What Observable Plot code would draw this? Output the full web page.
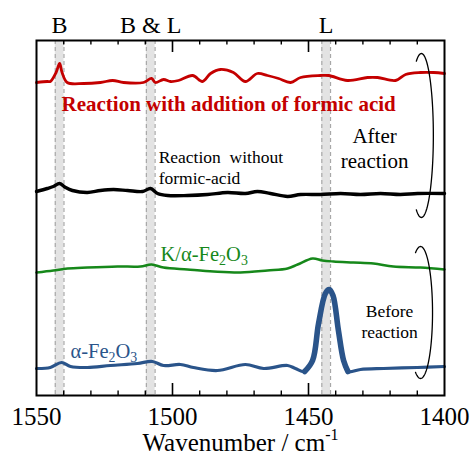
<!DOCTYPE html>
<html>
<head>
<meta charset="utf-8">
<script src="https://cdn.jsdelivr.net/npm/d3@7"></script>
<script src="https://cdn.jsdelivr.net/npm/@observablehq/plot@0.6"></script>
<style>
  html, body { margin: 0; padding: 0; background: #fff; }
</style>
</head>
<body>
<div id="chart"></div>
<script>
// ---------- data (wavenumber / cm-1, offset absorbance a.u.) ----------
const redWn = [1550, 1546, 1544.9, 1542.8, 1541.5, 1540.6, 1538.7, 1532.7, 1526.5, 1522, 1518, 1510.7, 1507.7, 1506.3, 1503.3, 1500.7, 1497.8, 1492.6, 1489, 1486, 1482.4, 1477.6, 1473.2, 1468.8, 1465.1, 1461, 1456.6, 1452.9, 1445.6, 1442.6, 1435.7, 1428.3, 1424.6, 1418, 1414.3, 1408.8, 1404, 1400];
const redAbs = [3.13, 3.14, 3.14, 3.23, 3.32, 3.23, 3.13, 3.12, 3.13, 3.15, 3.13, 3.13, 3.17, 3.13, 3.16, 3.14, 3.15, 3.20, 3.14, 3.22, 3.26, 3.23, 3.14, 3.22, 3.20, 3.17, 3.13, 3.18, 3.20, 3.20, 3.15, 3.18, 3.18, 3.15, 3.21, 3.23, 3.23, 3.22];

const blackWn = [1550, 1546, 1543.8, 1541.5, 1539.3, 1536.8, 1531.3, 1526.5, 1521.7, 1516.5, 1511, 1508.1, 1505.5, 1501.8, 1494.5, 1487.1, 1479.8, 1473.2, 1468.8, 1464, 1457.7, 1452.9, 1445.6, 1438.2, 1430.9, 1423.5, 1416.2, 1409.9, 1400];
const blackAbs = [2.04, 2.07, 2.09, 2.12, 2.08, 2.05, 2.03, 2.05, 2.06, 2.05, 2.04, 2.07, 2.02, 2.00, 2.00, 2.01, 2.03, 2.02, 2.04, 2.02, 1.99, 2.01, 2.01, 2.02, 2.01, 2.02, 2.01, 2.02, 2.02];

const greenWn = [1550, 1543.8, 1538.6, 1531.3, 1520.2, 1511.8, 1507.7, 1503.3, 1494.5, 1484.9, 1475, 1465.1, 1457.7, 1454, 1448.5, 1444.9, 1440.8, 1433.5, 1426.1, 1418.8, 1408.8, 1400];
const greenAbs = [1.23, 1.25, 1.27, 1.28, 1.29, 1.29, 1.31, 1.28, 1.26, 1.24, 1.23, 1.25, 1.27, 1.31, 1.37, 1.35, 1.34, 1.33, 1.32, 1.29, 1.28, 1.26];

const blueWn = [1550, 1544.9, 1540.8, 1537.5, 1531.3, 1522.8, 1512.9, 1507.4, 1503.3, 1497.1, 1492.3, 1483.5, 1473.2, 1466.5, 1457.7, 1454.8, 1451.4, 1448.5, 1446.3, 1443.8, 1442.4, 1441.0, 1439, 1437.1, 1435.5, 1430.9, 1422.4, 1410, 1400];
const blueAbs = [0.27, 0.28, 0.33, 0.29, 0.28, 0.30, 0.32, 0.34, 0.30, 0.31, 0.28, 0.25, 0.31, 0.27, 0.30, 0.27, 0.24, 0.35, 0.72, 1.02, 1.06, 1.00, 0.65, 0.35, 0.24, 0.26, 0.27, 0.28, 0.29];

// marker bands (B, B & L, L)
const bandLabels = ["B", "B & L", "L"];
const bandCenters = [1541.5, 1508, 1443.5];
const bandWidth = 3.2;

// axis ticks
const majorTicks = [1550, 1500, 1450, 1400];
const minorTicks = [1540, 1530, 1520, 1510, 1490, 1480, 1470, 1460, 1440, 1430, 1420, 1410];

// annotation brackets (ellipse arcs): centre wn, centre abs, half-widths
const bracketNames = ["after", "before"];
const bracketCx = [1408.5, 1408.8];
const bracketCy = [2.60, 0.83];
const bracketRx = [4.4, 4.4];
const bracketRy = [0.82, 0.66];

// ---------- build tables ----------
const toRows = (wn, ab) => wn.map((w, i) => ({wn: w, abs: ab[i]}));
const redRows = toRows(redWn, redAbs);
const blackRows = toRows(blackWn, blackAbs);
const greenRows = toRows(greenWn, greenAbs);
const blueRows = toRows(blueWn, blueAbs);
const bluePeak = blueRows.filter(d => d.wn <= 1452 && d.wn >= 1435);

const bands = bandCenters.map((c, i) => ({c, label: bandLabels[i], x1: c + bandWidth / 2, x2: c - bandWidth / 2}));
const bandEdges = bands.flatMap(b => [b.x1, b.x2]);

const bracketPts = [];
bracketNames.forEach((name, k) => {
  for (let a = -115; a <= 115; a += 2.5) {
    const t = a * Math.PI / 180;
    bracketPts.push({name, wn: bracketCx[k] - bracketRx[k] * Math.cos(t), abs: bracketCy[k] - bracketRy[k] * Math.sin(t)});
  }
});

const RED = "#c40000", GREEN = "#16881a", BLUE = "#2a548a";
const FONT = "'Times New Roman', serif";

const chart = Plot.plot({
  width: 474,
  height: 454,
  marginTop: 40,
  marginRight: 30,
  marginBottom: 59,
  marginLeft: 36,
  x: {domain: [1550, 1400], axis: null},
  y: {domain: [0, 3.55], axis: null},
  style: "font-family: 'Times New Roman', serif; background: #fff;",
  marks: [
    Plot.rect(bands, {x1: "x1", x2: "x2", fill: "#e3e3e3"}),
    Plot.ruleX(bandEdges, {stroke: "#a8a8a8", strokeWidth: 1.2, strokeDasharray: "4,3"}),
    // inward ticks, bottom & top
    Plot.ruleX(majorTicks.slice(1, 3), {y1: () => 0, y2: () => 0.12, stroke: "#000", strokeWidth: 1.6}),
    Plot.ruleX(majorTicks.slice(1, 3), {y1: () => 3.43, y2: () => 3.55, stroke: "#000", strokeWidth: 1.6}),
    Plot.ruleX(minorTicks, {y1: () => 0, y2: () => 0.045, stroke: "#000", strokeWidth: 1.4}),
    Plot.ruleX(minorTicks, {y1: () => 3.505, y2: () => 3.55, stroke: "#000", strokeWidth: 1.4}),
    // spectra
    Plot.line(redRows, {x: "wn", y: "abs", stroke: RED, strokeWidth: 2.8, curve: "catmull-rom"}),
    Plot.line(blackRows, {x: "wn", y: "abs", stroke: "#000", strokeWidth: 3.4, curve: "catmull-rom"}),
    Plot.line(greenRows, {x: "wn", y: "abs", stroke: GREEN, strokeWidth: 2.5, curve: "catmull-rom"}),
    Plot.line(blueRows, {x: "wn", y: "abs", stroke: BLUE, strokeWidth: 3.2, curve: "catmull-rom"}),
    Plot.line(bluePeak, {x: "wn", y: "abs", stroke: BLUE, strokeWidth: 5.6, curve: "catmull-rom"}),
    // brackets
    Plot.line(bracketPts, {x: "wn", y: "abs", z: "name", stroke: "#000", strokeWidth: 1.3, curve: "linear"}),
    // band labels above the frame
    Plot.text(bands, {x: "c", y: () => 3.63, text: "label", fontSize: 24, lineAnchor: "bottom", fill: "#000"}),
    // curve labels
    Plot.text(["Reaction with addition of formic acid"], {x: () => 1540.8, y: () => 2.85, text: d => d, textAnchor: "start", lineAnchor: "bottom", fontSize: 21, fontWeight: "bold", fill: RED}),
    Plot.text(["Reaction\u00a0 without\nformic-acid"], {x: () => 1505.1, y: () => 2.12, text: d => d, textAnchor: "start", lineAnchor: "bottom", fontSize: 17.5, lineHeight: 1.18, fill: "#000"}),
    Plot.text(["After\nreaction"], {x: () => 1425.7, y: () => 2.28, text: d => d, textAnchor: "middle", lineAnchor: "bottom", fontSize: 21, lineHeight: 1.19, fill: "#000"}),
    Plot.text(["K/α-Fe_{2}O_{3}"], {x: () => 1504.4, y: () => 1.35, text: d => d, textAnchor: "start", lineAnchor: "bottom", fontSize: 20.5, fill: GREEN}),
    Plot.text(["α-Fe_{2}O_{3}"], {x: () => 1537.5, y: () => 0.38, text: d => d, textAnchor: "start", lineAnchor: "bottom", fontSize: 20.5, fill: BLUE}),
    Plot.text(["Before\nreaction"], {x: () => 1420.2, y: () => 0.58, text: d => d, textAnchor: "middle", lineAnchor: "bottom", fontSize: 17.5, lineHeight: 1.15, fill: "#000"}),
    Plot.frame({stroke: "#000", strokeWidth: 2}),
    Plot.axisX(majorTicks, {tickSize: 0, tickPadding: 12, fontSize: 25, tickFormat: d => String(d), fill: "#000"}),
    Plot.text(["Wavenumber / cm^{-1}"], {frameAnchor: "bottom", dy: 55, text: d => d, lineAnchor: "bottom", fontSize: 25, fill: "#000"})
  ]
});

document.getElementById("chart").appendChild(chart);

// rich text: _{sub} and ^{sup}
const SVGNS = "http://www.w3.org/2000/svg";
function richText(el) {
  el.style.fontFamily = FONT;
  const s = el.textContent;
  if (!/[_^]\{/.test(s)) return;
  const fs = parseFloat(getComputedStyle(el).fontSize) || 16;
  el.textContent = "";
  const parts = s.split(/([_^]\{[^}]*\})/).filter(p => p);
  let shift = 0;
  for (const p of parts) {
    const t = document.createElementNS(SVGNS, "tspan");
    let target = 0;
    if (p.startsWith("_{")) { t.textContent = p.slice(2, -1); t.setAttribute("font-size", (fs * 0.68).toFixed(1)); target = fs * 0.22; }
    else if (p.startsWith("^{")) { t.textContent = p.slice(2, -1); t.setAttribute("font-size", (fs * 0.64).toFixed(1)); target = -fs * 0.42; }
    else t.textContent = p;
    const dy = target - shift;
    if (dy !== 0) t.setAttribute("dy", dy.toFixed(2));
    shift = target;
    el.appendChild(t);
  }
}
chart.querySelectorAll("text").forEach(richText);
</script>
</body>
</html>
